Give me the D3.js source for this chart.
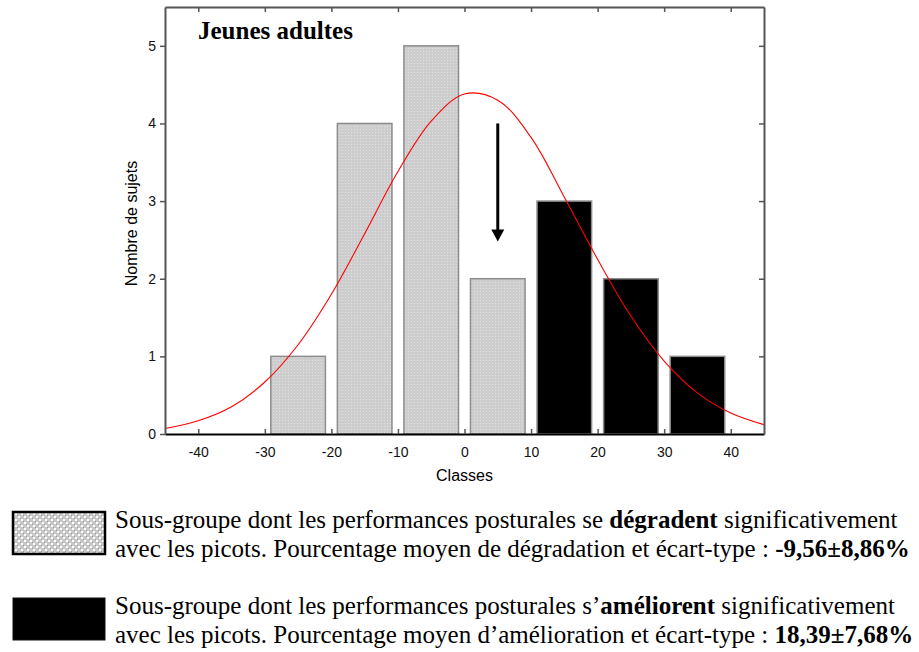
<!DOCTYPE html>
<html>
<head>
<meta charset="utf-8">
<script src="https://cdn.jsdelivr.net/npm/d3@7"></script>
<style>
  body { margin: 0; background: #fff; }
  svg { display: block; }
  .tick text { font-family: "Liberation Sans", Arial, sans-serif; font-size: 14px; fill: #111; }
  .legend-text { font-family: "Liberation Serif", "Times New Roman", serif; font-size: 25px; fill: #000; }
</style>
</head>
<body>
<svg id="chart" width="919" height="652"></svg>
<script>
// histogram classes (centre of each class) and counts
const classCenters = [-25, -15, -5, 5, 15, 25, 35];
const counts = [1, 4, 5, 2, 3, 2, 1];
const groups = ['degrade', 'degrade', 'degrade', 'degrade', 'ameliore', 'ameliore', 'ameliore'];

// fitted normal curve
const curveX = [-45, -40, -35, -30, -25, -20, -15, -10, -5, 0, 5, 10, 15, 20, 25, 30, 35, 40, 45];
const curveY = [0.07, 0.17, 0.35, 0.67, 1.15, 1.8, 2.58, 3.38, 4.03, 4.38, 4.3, 3.82, 3.05, 2.25, 1.52, 0.94, 0.53, 0.27, 0.12];

const xTicks = [-40, -30, -20, -10, 0, 10, 20, 30, 40];
const yTicks = [0, 1, 2, 3, 4, 5];

// arrow: x position, from / to (counts)
const arrow = { x: 5, from: 4, to: 2.48 };

const legendLines = [
  [
    [{ t: 'Sous-groupe dont les performances posturales se ' }, { t: 'dégradent', b: true }, { t: ' significativement' }],
    [{ t: 'avec les picots. Pourcentage moyen de dégradation et écart-type : ' }, { t: '-9,56±8,86%', b: true }]
  ],
  [
    [{ t: 'Sous-groupe dont les performances posturales s’' }, { t: 'améliorent', b: true }, { t: ' significativement' }],
    [{ t: 'avec les picots. Pourcentage moyen d’amélioration et écart-type : ' }, { t: '18,39±7,68%', b: true }]
  ]
];

const svg = d3.select('#chart');
const plot = { left: 165, right: 764, top: 7, bottom: 434 };

const xScale = d3.scaleLinear().domain([-45, 45]).range([plot.left, plot.right]);
const yScale = d3.scaleLinear().domain([0, 5.5]).range([plot.bottom, plot.top]);

// dotted fill pattern for grey bars
const defs = svg.append('defs');
const pat = defs.append('pattern').attr('id', 'dots')
  .attr('width', 3).attr('height', 3).attr('patternUnits', 'userSpaceOnUse');
pat.append('rect').attr('width', 3).attr('height', 3).attr('fill', '#cdcdcd');
pat.append('rect').attr('width', 1).attr('height', 1).attr('fill', '#e2e2e2');

const pat2 = defs.append('pattern').attr('id', 'hatch')
  .attr('width', 6).attr('height', 6).attr('patternUnits', 'userSpaceOnUse');
pat2.append('rect').attr('width', 6).attr('height', 6).attr('fill', '#c8c8c8');
pat2.append('rect').attr('x', 0).attr('y', 0).attr('width', 2).attr('height', 2).attr('fill', '#fff');
pat2.append('rect').attr('x', 3).attr('y', 3).attr('width', 2).attr('height', 2).attr('fill', '#fff');
pat2.append('rect').attr('x', 2).attr('y', 2).attr('width', 1).attr('height', 1).attr('fill', '#999');
pat2.append('rect').attr('x', 5).attr('y', 5).attr('width', 1).attr('height', 1).attr('fill', '#999');

// bars
const halfWidth = 4.1;
svg.append('g').selectAll('rect')
  .data(classCenters.map((c, i) => ({ c, n: counts[i], g: groups[i] })))
  .join('rect')
  .attr('x', d => xScale(d.c - halfWidth))
  .attr('y', d => yScale(d.n))
  .attr('width', d => xScale(d.c + halfWidth) - xScale(d.c - halfWidth))
  .attr('height', d => yScale(0) - yScale(d.n))
  .attr('fill', d => d.g === 'degrade' ? 'url(#dots)' : '#000')
  .attr('stroke', '#8c8c8c')
  .attr('stroke-width', 1.5);

// normal curve
const line = d3.line()
  .x((d, i) => xScale(curveX[i]))
  .y(d => yScale(d))
  .curve(d3.curveCatmullRom);

svg.append('path')
  .datum(curveY)
  .attr('d', line)
  .attr('fill', 'none')
  .attr('stroke', '#ff0000')
  .attr('stroke-width', 1.1);

// arrow
const ax = xScale(arrow.x);
svg.append('line')
  .attr('x1', ax).attr('x2', ax)
  .attr('y1', yScale(arrow.from)).attr('y2', yScale(arrow.to) - 10)
  .attr('stroke', '#000').attr('stroke-width', 3);
svg.append('path')
  .attr('d', `M${ax - 6.5},${yScale(arrow.to) - 12} L${ax + 6.5},${yScale(arrow.to) - 12} L${ax},${yScale(arrow.to)} Z`)
  .attr('fill', '#000');

// axes (Statistica style: frame with inward ticks, left ticks outward)
const axisColor = '#555';
const fmt = d => String(d);
const gx = svg.append('g')
  .attr('transform', `translate(0,${plot.bottom})`)
  .call(d3.axisBottom(xScale).tickValues(xTicks).tickFormat(fmt).tickSizeInner(-5).tickSizeOuter(0).tickPadding(13));
const gxTop = svg.append('g')
  .attr('transform', `translate(0,${plot.top})`)
  .call(d3.axisTop(xScale).tickValues(xTicks).tickSizeInner(-5).tickSizeOuter(0).tickFormat(''));
const gy = svg.append('g')
  .attr('transform', `translate(${plot.left},0)`)
  .call(d3.axisLeft(yScale).tickValues(yTicks).tickFormat(fmt).tickSizeInner(5).tickSizeOuter(0).tickPadding(4));
const gyRight = svg.append('g')
  .attr('transform', `translate(${plot.right},0)`)
  .call(d3.axisRight(yScale).tickValues(yTicks.slice(1)).tickSizeInner(-5).tickSizeOuter(0).tickFormat(''));

[gx, gxTop, gy, gyRight].forEach(g => {
  g.select('.domain').attr('stroke', axisColor).attr('stroke-width', 2);
  g.selectAll('.tick line').attr('stroke', axisColor).attr('stroke-width', 1.5);
});
gx.select('.domain').attr('stroke', '#000');

// title inside plot
svg.append('text')
  .attr('x', 198).attr('y', 39)
  .attr('font-family', '"Liberation Serif", "Times New Roman", serif')
  .attr('font-weight', 'bold')
  .attr('font-size', 25)
  .text('Jeunes adultes');

// axis labels
svg.append('text')
  .attr('x', xScale(0)).attr('y', 481)
  .attr('text-anchor', 'middle')
  .attr('font-family', '"Liberation Sans", Arial, sans-serif')
  .attr('font-size', 16)
  .text('Classes');

svg.append('text')
  .attr('transform', `translate(137,${(plot.top + plot.bottom) / 2 + 3}) rotate(-90)`)
  .attr('text-anchor', 'middle')
  .attr('font-family', '"Liberation Sans", Arial, sans-serif')
  .attr('font-size', 16)
  .text('Nombre de sujets');

// legend
const legendY = [512, 598];
const legend = svg.append('g');
legendLines.forEach((lines, i) => {
  legend.append('rect')
    .attr('x', 13).attr('y', legendY[i])
    .attr('width', 92).attr('height', 42)
    .attr('fill', i === 0 ? 'url(#hatch)' : '#000')
    .attr('stroke', i === 0 ? '#000' : '#111')
    .attr('stroke-width', i === 0 ? 2.5 : 1);
  lines.forEach((parts, j) => {
    const t = legend.append('text')
      .attr('class', 'legend-text')
      .attr('x', 115)
      .attr('y', legendY[i] + 16 + j * 29);
    parts.forEach(p => {
      t.append('tspan').attr('font-weight', p.b ? 'bold' : null).text(p.t);
    });
  });
});
</script>
</body>
</html>
